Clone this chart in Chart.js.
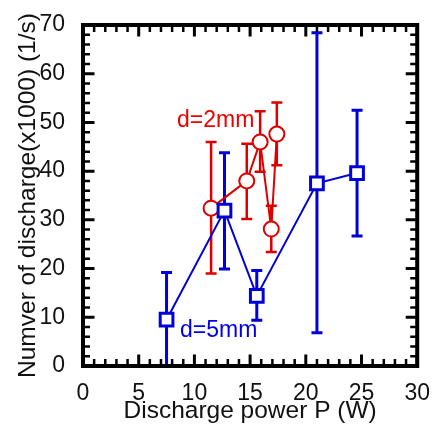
<!DOCTYPE html>
<html lang="en">
<head>
<meta charset="UTF-8">
<title>Discharge power</title>
<script src="https://cdn.jsdelivr.net/npm/chart.js@4"></script>
<style>
  html, body { margin: 0; padding: 0; background: #fff; }
</style>
</head>
<body>
<canvas id="myChart" width="436" height="426"></canvas>
<script>
// d=5mm (blue squares)
const powerD5 = [7.5, 12.7, 15.6, 21.0, 24.6];
const countD5 = [9.5, 31.9, 14.4, 37.5, 39.6];
const lowD5 = [0, 19.9, 9.4, 6.8, 26.7];
const highD5 = [19.2, 43.8, 19.6, 68.4, 52.5];

// d=2mm (red circles)
const powerD2 = [11.5, 14.7, 15.9, 16.9, 17.4];
const countD2 = [32.4, 38.0, 46.0, 28.1, 47.6];
const lowD2 = [19.0, 30.2, 39.9, 23.4, 41.2];
const highD2 = [46.0, 45.6, 52.3, 32.9, 54.1];

const xTicks = [0, 5, 10, 15, 20, 25, 30];
const yTicks = [0, 10, 20, 30, 40, 50, 60, 70];

const BLUE = '#0000d8';
const RED = '#dd0000';
const FONT = '"Liberation Sans", Arial, sans-serif';

function points(xs, ys) {
    return xs.map((v, i) => ({ x: v, y: ys[i] }));
}

// error bars, drawn under the markers
const errorBars = {
    id: 'errorBars',
    beforeDatasetsDraw(chart) {
        const { ctx, scales: { x, y } } = chart;
        chart.data.datasets.forEach(ds => {
            ctx.save();
            ctx.strokeStyle = ds.borderColor;
            ctx.lineWidth = ds.errWidth;
            ds.data.forEach((p, i) => {
                const px = x.getPixelForValue(p.x);
                const top = y.getPixelForValue(ds.high[i]);
                const bot = y.getPixelForValue(ds.low[i]);
                ctx.beginPath();
                ctx.moveTo(px, top); ctx.lineTo(px, bot);
                ctx.moveTo(px - 5.5, top); ctx.lineTo(px + 5.5, top);
                ctx.moveTo(px - 5.5, bot); ctx.lineTo(px + 5.5, bot);
                ctx.stroke();
            });
            ctx.restore();
        });
    }
};

// box frame with inward ticks on all four sides, plus the series labels
const frame = {
    id: 'frame',
    afterDatasetsDraw(chart) {
        const { ctx, chartArea: a, scales: { x, y } } = chart;
        ctx.save();
        ctx.strokeStyle = '#000';
        for (let v = 0; v <= 30; v++) {
            const px = x.getPixelForValue(v);
            const major = v % 5 === 0;
            const len = major ? 11.5 : 7;
            ctx.lineWidth = major ? 3 : 2.5;
            ctx.beginPath();
            ctx.moveTo(px, a.bottom); ctx.lineTo(px, a.bottom - len);
            ctx.moveTo(px, a.top); ctx.lineTo(px, a.top + len);
            ctx.stroke();
        }
        for (let v = 0; v <= 70; v += 2) {
            const py = y.getPixelForValue(v);
            const major = v % 10 === 0;
            const len = major ? 11.5 : 7;
            ctx.lineWidth = major ? 3 : 2.5;
            ctx.beginPath();
            ctx.moveTo(a.left, py); ctx.lineTo(a.left + len, py);
            ctx.moveTo(a.right, py); ctx.lineTo(a.right - len, py);
            ctx.stroke();
        }
        ctx.lineWidth = 4;
        ctx.strokeRect(a.left, a.top, a.right - a.left, a.bottom - a.top);

        ctx.font = '23px ' + FONT;
        ctx.textAlign = 'left';
        ctx.textBaseline = 'alphabetic';
        ctx.fillStyle = '#ee0000';
        ctx.fillText('d=2mm', 177, 127);
        ctx.fillStyle = '#0000ee';
        ctx.fillText('d=5mm', 180, 336.5);
        ctx.restore();
    }
};

const config = {
    type: 'line',
    data: {
        datasets: [{
            label: 'd=5mm',
            data: points(powerD5, countD5),
            low: lowD5,
            high: highD5,
            errWidth: 3,
            borderColor: BLUE,
            borderWidth: 2,
            pointStyle: 'rect',
            pointRadius: 9,
            pointBorderWidth: 3,
            pointBackgroundColor: '#fff',
            pointBorderColor: BLUE
        }, {
            label: 'd=2mm',
            data: points(powerD2, countD2),
            low: lowD2,
            high: highD2,
            errWidth: 2.5,
            borderColor: RED,
            borderWidth: 2,
            pointStyle: 'circle',
            pointRadius: 7.5,
            pointBorderWidth: 2,
            pointBackgroundColor: '#fff',
            pointBorderColor: RED
        }]
    },
    options: {
        responsive: false,
        animation: false,
        layout: { padding: { left: 0, top: 25, right: 16, bottom: 0 } },
        plugins: {
            legend: { display: false },
            tooltip: { enabled: false }
        },
        scales: {
            x: {
                type: 'linear',
                min: 0,
                max: 30,
                afterBuildTicks: s => { s.ticks = xTicks.map(v => ({ value: v })); },
                afterFit: s => { s.height = 60; },
                grid: { display: false },
                border: { display: false },
                ticks: { padding: 6, color: '#111', font: { family: FONT, size: 23 } },
                title: {
                    display: true,
                    text: 'Discharge power P (W)',
                    color: '#111',
                    font: { family: FONT, size: 24.5 },
                    padding: { top: 0, bottom: 0 }
                }
            },
            y: {
                min: 0,
                max: 70,
                afterBuildTicks: s => { s.ticks = yTicks.map(v => ({ value: v })); },
                afterFit: s => { s.width = 83; },
                grid: { display: false },
                border: { display: false },
                ticks: { padding: 10, color: '#111', font: { family: FONT, size: 23 } },
                title: {
                    display: true,
                    text: 'Numver of discharge(x1000) (1/s)',
                    color: '#111',
                    font: { family: FONT, size: 24.5 },
                    padding: { top: 14, bottom: 0 }
                }
            }
        }
    },
    plugins: [errorBars, frame]
};

new Chart(document.getElementById('myChart'), config);
</script>
</body>
</html>
